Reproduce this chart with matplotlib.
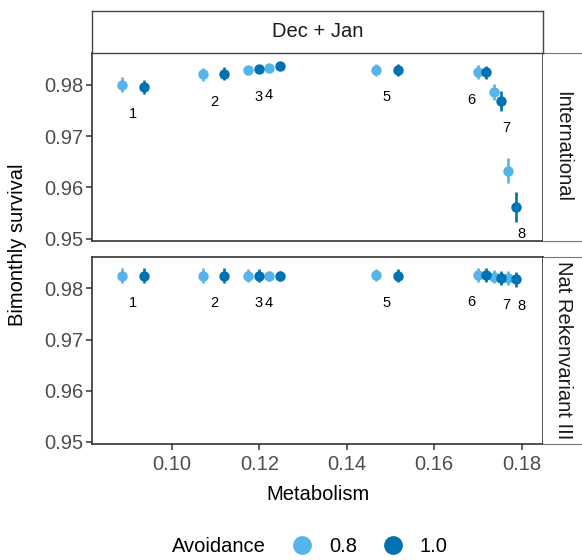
import numpy as np
import matplotlib.pyplot as plt
from matplotlib.lines import Line2D

plt.rcParams['font.family'] = ['Liberation Sans', 'DejaVu Sans']

# data
groups = ['1', '2', '3', '4', '5', '6', '7', '8']
avoidance = ['0.8', '1.0']
colors = ['#56B4E9', '#0072B2']

metab_08 = [0.0886, 0.1072, 0.1174, 0.1222, 0.1467, 0.1701, 0.1736, 0.1770]
metab_10 = [0.0936, 0.1120, 0.1199, 0.1247, 0.1517, 0.1719, 0.1752, 0.1787]

# International
intl_08 = [0.9800, 0.9820, 0.9829, 0.9833, 0.9828, 0.9824, 0.9786, 0.9633]
intl_10 = [0.9795, 0.9821, 0.9831, 0.9836, 0.9829, 0.9824, 0.9768, 0.9562]
intl_err_08 = [0.0015, 0.0013, 0.0008, 0.0006, 0.0012, 0.0014, 0.0016, 0.0025]
intl_err_10 = [0.0014, 0.0013, 0.0008, 0.0006, 0.0012, 0.0013, 0.0019, 0.0030]

# Nat Rekenvariant III
nat_08 = [0.9825, 0.9825, 0.9825, 0.9825, 0.9826, 0.9826, 0.9823, 0.9820]
nat_10 = [0.9825, 0.9825, 0.9825, 0.9825, 0.9825, 0.9826, 0.9820, 0.9818]
nat_err_08 = [0.0014, 0.0014, 0.0012, 0.0010, 0.0012, 0.0013, 0.0013, 0.0014]
nat_err_10 = [0.0014, 0.0014, 0.0012, 0.0010, 0.0012, 0.0013, 0.0014, 0.0015]

# label nudges (repel)
label_dx = [0, 0, 0.0011, -0.0013, 0, -0.0025, 0.0022, 0.0022]
label_dy = 0.0053

W, H = 582, 560
fig = plt.figure(figsize=(W / 100, H / 100), dpi=100)


def rect(l, t, r, b):
    return [l / W, 1 - b / H, (r - l) / W, (b - t) / H]


ax_top = fig.add_axes(rect(92, 52.7, 543, 241))
ax_bot = fig.add_axes(rect(92, 256.7, 543, 444))

panels = [(ax_top, intl_08, intl_10, intl_err_08, intl_err_10, 'International'),
          (ax_bot, nat_08, nat_10, nat_err_08, nat_err_10, 'Nat Rekenvariant III')]

for ax, s08, s10, e08, e10, name in panels:
    for mx, s, e, c in [(metab_08, s08, e08, colors[0]), (metab_10, s10, e10, colors[1])]:
        ax.errorbar(mx, s, yerr=e, fmt='o', color=c, ms=6.5, elinewidth=1.9,
                    capsize=0, zorder=3)
    mx = (np.array(metab_08) + np.array(metab_10)) / 2 + np.array(label_dx)
    my = np.minimum(s08, s10) - label_dy
    for g, x, y in zip(groups, mx, my):
        ax.text(x, y, g, ha='center', va='center', fontsize=10.5, color='black')
    ax.set_xlim(0.08169, 0.18492)
    ax.set_ylim(0.9496, 0.9862)
    ax.set_yticks([0.95, 0.96, 0.97, 0.98])
    ax.set_xticks([0.10, 0.12, 0.14, 0.16, 0.18])
    ax.yaxis.set_major_formatter(plt.FormatStrFormatter('%.2f'))
    ax.xaxis.set_major_formatter(plt.FormatStrFormatter('%.2f'))
    for sp in ax.spines.values():
        sp.set_color('#333333')
        sp.set_linewidth(1.2)
    ax.tick_params(colors='#333333', labelcolor='#4D4D4D', labelsize=14.5,
                   length=4, width=1.1, pad=2)
    ax.tick_params(axis='x', pad=4)

    # right strip
    pos = ax.get_position()
    st = fig.add_axes([pos.x1, pos.y0, 0.2, pos.height])
    st.set_xticks([])
    st.set_yticks([])
    for sp in st.spines.values():
        sp.set_color('#777777')
        sp.set_linewidth(0.8)
    st.spines['left'].set_visible(False)
    fig.text(563 / W, pos.y0 + pos.height / 2, name, rotation=-90,
             ha='center', va='center', fontsize=14.5, color='#1A1A1A')

ax_top.tick_params(axis='x', bottom=False, labelbottom=False)

# top strip
strip = fig.add_axes(rect(92, 10.5, 543, 52.7))
strip.set_xticks([])
strip.set_yticks([])
for sp in strip.spines.values():
    sp.set_color('#444444')
    sp.set_linewidth(1.0)
strip.text(0.5, 0.5, 'Dec + Jan', ha='center', va='center', fontsize=14.5,
           color='#1A1A1A', transform=strip.transAxes)

ax_bot.set_xlabel('Metabolism', fontsize=14.5, labelpad=8)
fig.text(18 / W, 1 - 245 / H, 'Bimonthly survival', rotation=90, ha='center',
         va='center', fontsize=14.5)

# legend
fig.text(172 / W, 1 - 547 / H, 'Avoidance', ha='left', va='center', fontsize=14.5)
handles = [Line2D([], [], marker='o', ls='', color=c, ms=12.5) for c in colors]
fig.legend(handles, avoidance, loc='center left', bbox_to_anchor=(270 / W, 1 - 547 / H),
           ncol=2, frameon=False, fontsize=14.5, handletextpad=0.65,
           columnspacing=1.05, handlelength=1.4)

fig.savefig('out.png', dpi=100)
